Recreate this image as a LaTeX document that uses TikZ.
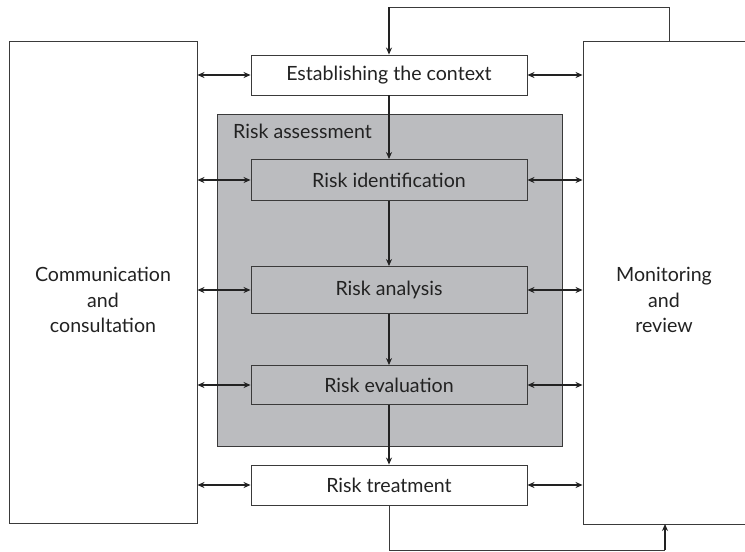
\documentclass[tikz,border=0pt]{standalone}
\usepackage{fontspec}
\setmainfont{Lato}
\usetikzlibrary{arrows.meta}
\definecolor{boxgray}{HTML}{BBBCBF}
\definecolor{edge}{HTML}{3A3A3A}
\definecolor{ink}{HTML}{222222}
\begin{document}
\begin{tikzpicture}[x=1pt,y=-1pt,
  every node/.style={font=\fontsize{19.6}{25.5}\selectfont, text=ink},
  box/.style={draw=edge, line width=0.9pt, rectangle, inner sep=0pt, minimum width=276pt},
  graybox/.style={box, fill=boxgray},
  side/.style={draw=edge, line width=0.9pt, rectangle, inner sep=0pt, align=center, fill=white},
  conn/.style={draw=ink, line width=1.4pt, -{Stealth[length=7pt,width=6pt]}},
  dconn/.style={draw=ink, line width=1.4pt, {Stealth[length=7pt,width=6pt]}-{Stealth[length=7pt,width=6pt]}},
  loop/.style={draw=edge, line width=0.9pt}
]
\useasboundingbox (0,0) rectangle (745,552);
\fill[white] (0,0) rectangle (745,552);
% side boxes
\node[side, minimum width=188pt, minimum height=482pt] (comm) at (103,282) {};
\node[align=center] (commtext) at (103,300) {Communication\\and\\consultation};
\node[side, minimum width=177pt, minimum height=483pt] (mon) at (671.5,282.5) {};
\node[align=center] (montext) at (664,300) {Monitoring\\and\\review};
% assessment
\node[draw=edge, line width=0.9pt, fill=boxgray, minimum width=345pt, minimum height=332pt, inner sep=0pt] (assess) at (389.5,280) {};
\node[anchor=west, inner sep=0pt] (assesslabel) at (233,131) {Risk assessment};
% process boxes
\node[box, fill=white, minimum height=40pt] (context) at (389,75) {Establishing the context};
\node[graybox, minimum height=41pt] (ident) at (389,180) {Risk identification};
\node[graybox, minimum height=47pt] (anal) at (389,290) {Risk analysis};
\node[graybox, minimum height=39pt] (eval) at (389,385) {Risk evaluation};
\node[box, fill=white, minimum height=40pt] (treat) at (389,485) {Risk treatment};
% vertical flow
\draw[conn] (context.south) -- (ident.north);
\draw[conn] (ident.south) -- (anal.north);
\draw[conn] (anal.south) -- (eval.north);
\draw[conn] (eval.south) -- (treat.north);
% horizontal double arrows
\foreach \n in {context,ident,anal,eval,treat}{
  \draw[dconn] (\n.west) -- (\n.west -| comm.east);
  \draw[dconn] (\n.east) -- (\n.east -| mon.west);
}
% loops
\coordinate (t1) at (669,7);
\coordinate (t2) at (389,7);
\draw[loop] (669,41) -- (t1) -- (t2);
\draw[conn, line width=1.2pt] (t2) -- (context.north);
\coordinate (b1) at (389,550);
\coordinate (b2) at (665,550);
\draw[loop] (treat.south) -- (b1) -- (b2);
\draw[conn, line width=1.2pt] (b2) -- (665,524);
\end{tikzpicture}
\end{document}
